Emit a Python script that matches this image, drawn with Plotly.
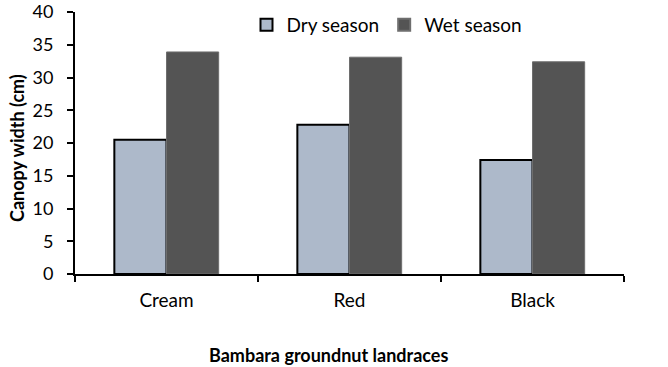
import plotly.graph_objects as go

categories = ["Cream", "Red", "Black"]
dry_season = [20.5, 22.8, 17.4]
wet_season = [33.9, 33.1, 32.4]
y_ticks = [0, 5, 10, 15, 20, 25, 30, 35, 40]

FONT = "Lato, Carlito, Calibri, sans-serif"

L, R, T, B = 75, 44, 12, 93
PW = 668 - L - R
PH = 367 - T - B

fig = go.Figure()
fig.add_trace(go.Bar(
    x=categories, y=dry_season, name="Dry season",
    marker=dict(color="#ADB9CA", line=dict(color="black", width=2)),
))
fig.add_trace(go.Bar(
    x=categories, y=wet_season, name="Wet season",
    marker=dict(color="#545454", line=dict(color="#6e6e6e", width=1)),
))

fig.update_layout(
    width=668, height=367,
    margin=dict(l=L, r=R, t=T, b=B, autoexpand=False),
    paper_bgcolor="white", plot_bgcolor="white",
    barmode="group", bargap=0.43, bargroupgap=0,
    font=dict(family=FONT, size=17, color="black"),
    showlegend=True,
    legend=dict(orientation="h", x=(387 - L) / PW, y=(274 - 25) / PH,
                xanchor="center", yanchor="middle", itemwidth=30,
                font=dict(size=19), bgcolor="rgba(0,0,0,0)",
                itemsizing="constant", traceorder="normal"),
    xaxis=dict(
        showline=True, linecolor="black", linewidth=2, automargin=False,
        ticks="outside", tickson="boundaries", ticklen=6, tickwidth=2, tickcolor="black",
        tickfont=dict(size=19), showgrid=False, ticklabelstandoff=8,
    ),
    yaxis=dict(
        range=[0, 40.001], tickvals=y_ticks, automargin=False,
        showline=True, linecolor="black", linewidth=2,
        ticks="outside", ticklen=6, tickwidth=2, tickcolor="black",
        tickfont=dict(size=18), showgrid=False, zeroline=False,
        ticklabeloverflow="allow", ticklabelstandoff=10,
    ),
    annotations=[
        dict(text="<b>Bambara groundnut landraces</b>", xref="paper", yref="paper",
             x=(328 - L) / PW, y=-(355 - 274) / PH, xanchor="center", yanchor="middle",
             showarrow=False, font=dict(size=18)),
        dict(text="<b>Canopy width (cm)</b>", xref="paper", yref="paper",
             x=-(L - 17) / PW, y=(274 - 148) / PH, xanchor="center", yanchor="middle",
             textangle=-90, showarrow=False, font=dict(size=18)),
    ],
)

fig.write_html("out.html", config={"displayModeBar": False},
               post_script="document.body.style.margin='0';document.body.style.overflow='hidden';")
